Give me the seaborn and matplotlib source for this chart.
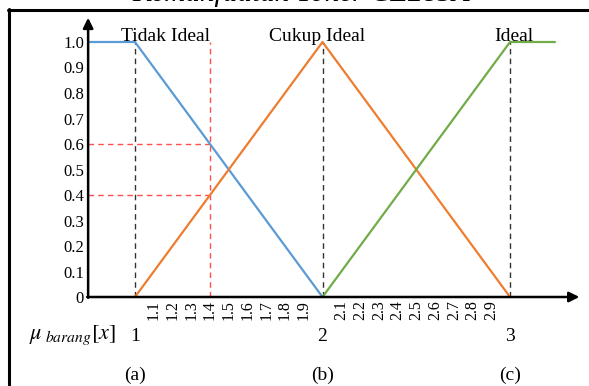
import matplotlib
matplotlib.use("Agg")
import matplotlib.pyplot as plt
import seaborn as sns
import pandas as pd
from matplotlib.lines import Line2D

# ---- data ----
tidak_x = [0.75, 1.0, 2.0]
tidak_y = [1.0, 1.0, 0.0]
cukup_x = [1.0, 2.0, 3.0]
cukup_y = [0.0, 1.0, 0.0]
ideal_x = [2.0, 3.0, 3.24]
ideal_y = [0.0, 1.0, 1.0]
set_names = ["Tidak Ideal", "Cukup Ideal", "Ideal"]
set_peaks = [1.0, 2.0, 3.0]
sub_labels = ["(a)", "(b)", "(c)"]
y_ticks = [0, 0.1, 0.2, 0.3, 0.4, 0.5, 0.6, 0.7, 0.8, 0.9, 1.0]
y_ticklabels = ["0", "0.1", "0.2", "0.3", "0.4", "0.5", "0.6", "0.7", "0.8", "0.9", "1.0"]
major_x = [1, 2, 3]
minor_x = [1.1, 1.2, 1.3, 1.4, 1.5, 1.6, 1.7, 1.8, 1.9,
           2.1, 2.2, 2.3, 2.4, 2.5, 2.6, 2.7, 2.8, 2.9]
example_x = 1.4
example_mu = [0.6, 0.4]
title = "Kemanfaatan Toner CE285A"

sns.set_theme(style="white")
plt.rcParams['font.family'] = ['Liberation Serif', 'DejaVu Serif']
plt.rcParams['mathtext.fontset'] = 'stix'

df = pd.concat([
    pd.DataFrame({"x": tidak_x, "mu": tidak_y, "set": set_names[0]}),
    pd.DataFrame({"x": cukup_x, "mu": cukup_y, "set": set_names[1]}),
    pd.DataFrame({"x": ideal_x, "mu": ideal_y, "set": set_names[2]}),
])

fig = plt.figure(figsize=(5.89, 3.86), dpi=100)
ax = fig.add_axes([0, 0, 1, 1])
palette = {set_names[0]: "#5B9BD5", set_names[1]: "#ED7D31", set_names[2]: "#70AD47"}

# dashed guides
for p in set_peaks:
    ax.plot([p, p], [0, 1.0], ls=(0, (4, 3)), color="#333333", lw=1.0, zorder=1)
ax.plot([example_x, example_x], [0, 1.0], ls=(0, (4, 3)), color="#FF5050", lw=1.0, zorder=1)
for m in example_mu:
    ax.plot([0.75, example_x], [m, m], ls=(0, (4, 3)), color="#FF5050", lw=1.0, zorder=1)

sns.lineplot(data=df, x="x", y="mu", hue="set", palette=palette, sort=False,
             estimator=None, lw=1.6, legend=False, ax=ax, zorder=3)

ax.set_xlim(0.28, 3.4213)
ax.set_ylim(-0.349, 1.1647)
for s in ax.spines.values():
    s.set_visible(False)
ax.spines['left'].set_position(('data', 0.75))
ax.spines['bottom'].set_position(('data', 0.0))
ax.set_xlabel("")
ax.set_ylabel("")

ax.set_yticks(y_ticks)
ax.set_yticklabels(y_ticklabels)
ax.tick_params(axis='y', length=0, pad=3.0, labelsize=12, colors='black')
ax.set_xticks(major_x)
ax.set_xticklabels([str(v) for v in major_x])
ax.set_xticks(minor_x, minor=True)
ax.set_xticklabels([f"{v:.1f}" for v in minor_x], minor=True, rotation=90)
ax.tick_params(axis='x', which='major', length=0, pad=22, labelsize=14, colors='black')
ax.tick_params(axis='x', which='minor', length=0, pad=2.5, labelsize=11.5, colors='black')
for lab in ax.get_xticklabels(minor=True):
    lab.set_verticalalignment('top')

# axes arrows
ax.annotate('', xy=(3.37, 0), xytext=(0.745, 0),
            arrowprops=dict(arrowstyle='-|>', color='black', lw=1.8, mutation_scale=15,
                            shrinkA=0, shrinkB=0))
ax.annotate('', xy=(0.75, 1.095), xytext=(0.75, -0.003),
            arrowprops=dict(arrowstyle='-|>', color='black', lw=1.8, mutation_scale=15,
                            shrinkA=0, shrinkB=0))

# set labels
label_x = [1.16, 1.97, 3.02]
for name, lx in zip(set_names, label_x):
    ax.text(lx, 1.005, name, ha='center', va='baseline', fontsize=14, color='black')

for lab, p in zip(sub_labels, set_peaks):
    ax.text(p, -0.308, lab, ha='center', va='center', fontsize=14, color='black')

ax.text(0.665, -0.15, r"$\mu_{\ barang}[x]$", ha='center', va='center', fontsize=16, color='black')

# frame lines of the figure
fig.add_artist(Line2D([9.0 / 589, 9.0 / 589], [0, 1 - 9 / 386], color='black', lw=2.2))
fig.add_artist(Line2D([8.0 / 589, 1], [1 - 9.5 / 386, 1 - 9.5 / 386], color='black', lw=2.2))
fig.text(0.511, 1 - 1 / 386, title, ha='center', va='baseline', fontsize=21,
         style='italic', color='black')

fig.savefig("out.png", dpi=100)
